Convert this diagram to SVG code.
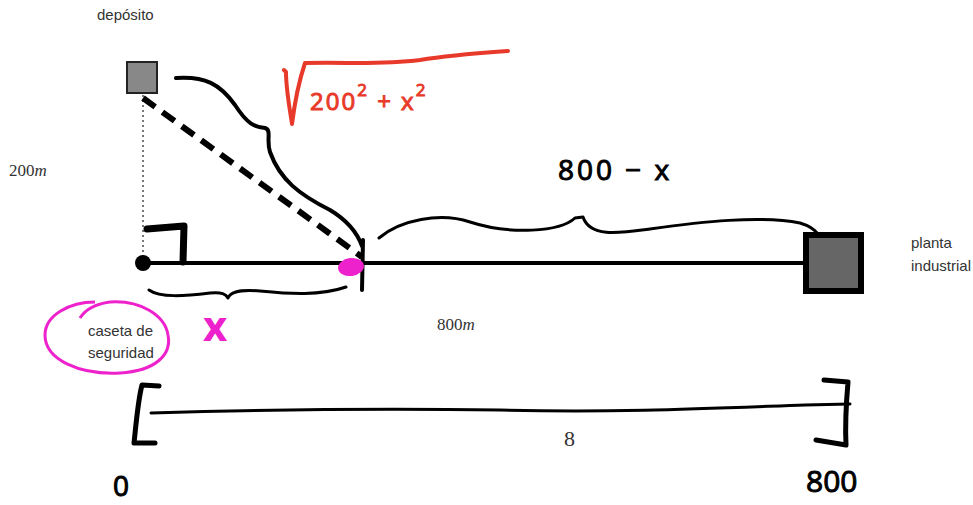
<svg xmlns="http://www.w3.org/2000/svg" width="973" height="505" viewBox="0 0 973 505">
<style>
.lbl{font-family:"Liberation Sans",Arial,sans-serif;font-size:15px;fill:#333}
.math{font-family:"Liberation Serif","Times New Roman",serif;font-size:17px;fill:#333}
.ink{fill:none;stroke:#000;stroke-linecap:round;stroke-linejoin:round}
.hand{font-family:"Open Sans","DejaVu Sans",sans-serif;fill:#000;stroke:#000;stroke-width:1}
</style>
<rect width="973" height="505" fill="#fff"/>
<g id="connectors">
<line x1="143" y1="95" x2="143" y2="262" stroke="#777" stroke-width="2" stroke-dasharray="2 3"/>
<line x1="143" y1="98" x2="362" y2="257" stroke="#000" stroke-width="6" stroke-dasharray="15 9"/>
<line x1="143" y1="263" x2="806" y2="263" stroke="#000" stroke-width="4"/>
</g>
<g id="deposito">
<rect x="127" y="62" width="30" height="31" fill="#888" stroke="#222" stroke-width="2"/>
<text class="lbl" x="97" y="20">depósito</text>
</g>
<g id="caseta">
<circle cx="143" cy="263" r="8" fill="#000"/>
<text class="lbl" x="88" y="336">caseta de</text>
<text class="lbl" x="88" y="358">seguridad</text>
</g>
<g id="planta">
<rect x="806" y="235" width="55" height="56" fill="#666" stroke="#000" stroke-width="6"/>
<text class="lbl" x="911" y="248">planta</text>
<text class="lbl" x="911" y="271">industrial</text>
</g>
<g id="labels">
<text class="math" x="9" y="176">200<tspan font-style="italic">m</tspan></text>
<text class="math" x="437" y="330">800<tspan font-style="italic">m</tspan></text>
<text class="math" x="564" y="446" style="font-size:22px">8</text>
</g>
<g id="annotations">
<path class="ink" stroke-width="4" d="M176,78 C205,76 220,84 235,105 C248,125 255,127 265,128 C272,130 266,140 270,152 C280,180 300,195 330,210 C350,222 358,235 362,246"/>
<path class="ink" stroke-width="7" d="M147,229 L184,226 L183,262"/>
<path class="ink" stroke-width="4" d="M363,240 L362,290"/>
<path class="ink" stroke-width="3" d="M149,290 C160,298 185,296 210,293 C222,292 226,294 228,298 C230,293 236,289 260,291 C290,294 320,296 346,287"/>
<path class="ink" stroke-width="3" d="M379,238 C400,220 440,212 470,222 C510,235 560,232 575,218 L583,217 C590,238 620,233 650,229 C700,222 760,215 800,223 C810,226 815,230 818,234"/>
<ellipse cx="351" cy="267" rx="13" ry="9" fill="#ee22cc" transform="rotate(-8 351 267)"/>
<path fill="none" stroke="#ee22cc" stroke-width="3" d="M95,302 C70,302 45,315 45,335 C45,360 80,375 120,373 C155,371 172,355 168,335 C165,315 140,300 110,302 C95,304 85,310 80,318"/>
<text x="203" y="341" font-family="'Open Sans','DejaVu Sans',sans-serif" font-size="42" font-weight="bold" fill="#ee22cc">x</text>
<path fill="none" stroke="#e83a2a" stroke-width="4" stroke-linecap="round" stroke-linejoin="round" d="M284,70 L286,72 C286,90 290,110 292,124 C295,100 300,78 305,63 C350,62 380,65 420,60 C450,55 480,53 508,51"/>
<text x="310" y="110" font-family="'Open Sans','DejaVu Sans',sans-serif" font-size="24" fill="#e83a2a" stroke="#e83a2a" stroke-width="1" letter-spacing="2">200<tspan dy="-14" font-size="17">2</tspan><tspan dy="14"> + x</tspan><tspan dy="-14" font-size="17">2</tspan></text>
<text class="hand" x="558" y="180" font-size="28" letter-spacing="3">800 − x</text>
<path class="ink" stroke-width="5" d="M159,386 L142,385 C138,400 136,425 134,443 L155,443"/>
<path class="ink" stroke-width="3" d="M151,413 C250,410 380,408 500,410 C620,413 720,408 805,405 L850,404"/>
<path class="ink" stroke-width="5" d="M824,380 L848,382 C846,405 845,425 846,445 L816,440"/>
<text class="hand" x="113" y="496" font-size="28">0</text>
<text class="hand" x="806" y="492" font-size="30">800</text>
</g>
</svg>
